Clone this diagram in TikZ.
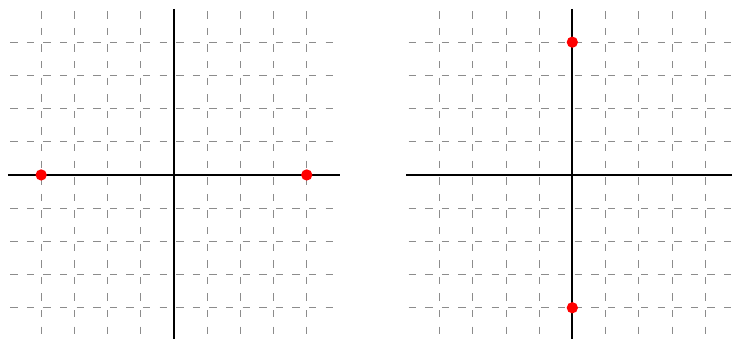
\documentclass[tikz,border=0pt]{standalone}
\usepackage{tikz}
\usetikzlibrary{calc}

\begin{document}
\begin{tikzpicture}[
    gridline/.style={
        draw=black!45, line width=0.7pt,
        dash pattern=on 0.22cm off 0.28cm, dash phase=-0.07cm
    },
    axisline/.style={
        draw=black, line width=1.6pt
    },
    pt/.style={
        circle, fill=red, inner sep=0pt, minimum size=0.34cm
    }
]

% --- fixed frame, same proportions as the two panels side by side ---
\useasboundingbox (-5.24,-4.94) rectangle (16.81,5.27);

% --- two panels: dashed grid plus axes ---
\foreach \ox/\name in {0/left, 12/right} {
    \begin{scope}[xshift=\ox cm]
        \foreach \k in {-4,...,4} {
            \ifnum\k=0\else
                \draw[gridline] (-5,\k) -- (5,\k);
                \draw[gridline] (\k,5) -- (\k,-5);
            \fi
        }
        \draw[axisline] (-5,0) -- (5,0);
        \draw[axisline] (0,5) -- (0,-5);
        \coordinate (\name-o) at (0,0);
    \end{scope}
}

% --- points on the axes ---
\node[pt] (lw) at ($(left-o)+(-4,0)$) {};
\node[pt] (le) at ($(left-o)+(4,0)$) {};
\node[pt] (rn) at ($(right-o)+(0,4)$) {};
\node[pt] (rs) at ($(right-o)+(0,-4)$) {};

\end{tikzpicture}
\end{document}
